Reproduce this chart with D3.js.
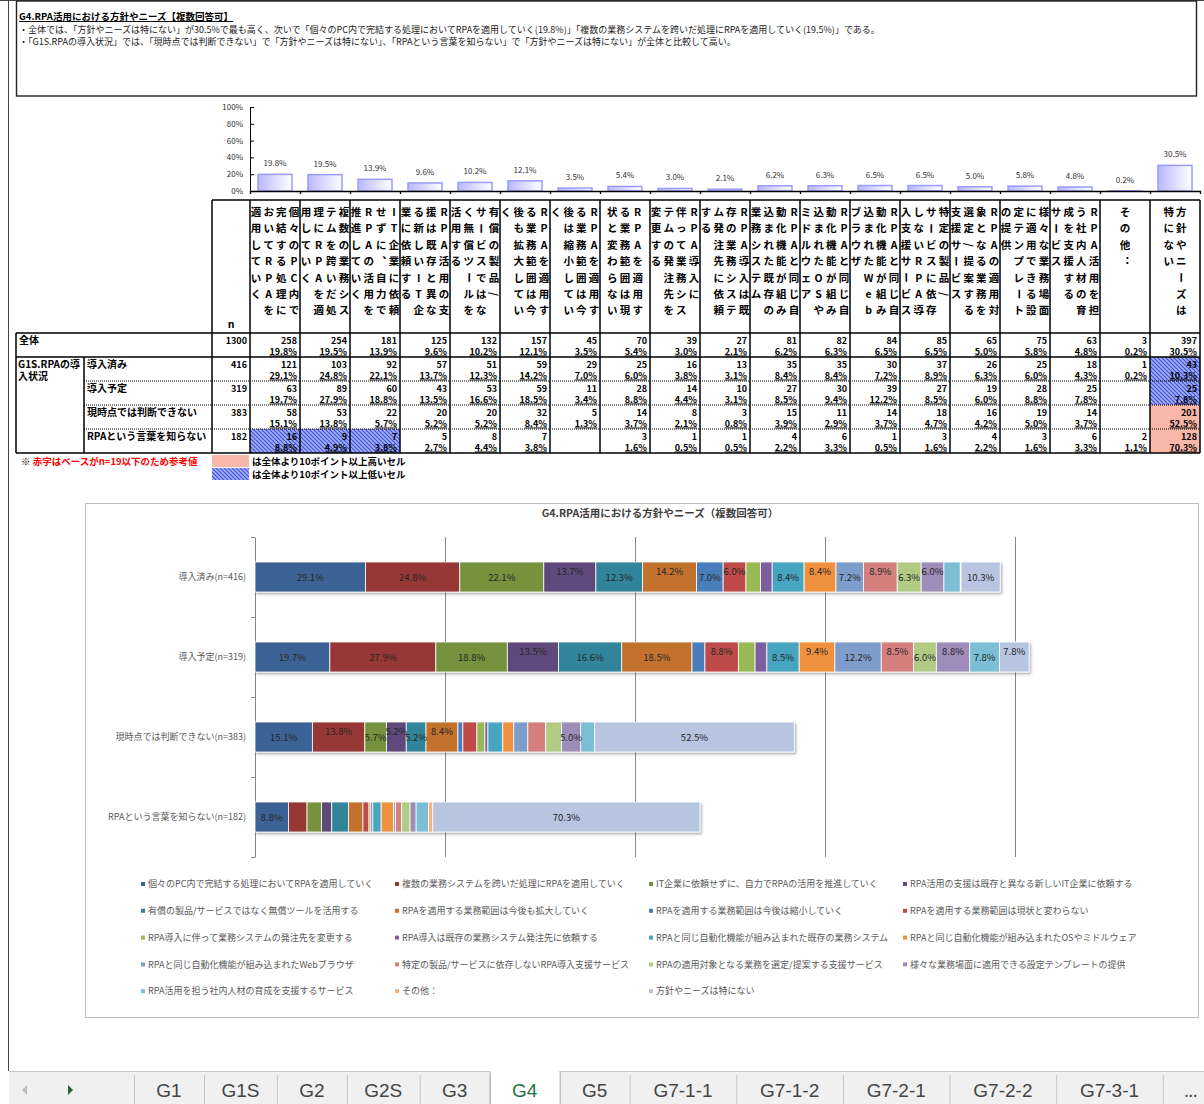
<!DOCTYPE html>
<html>
<head>
<meta charset="utf-8">
<script src="https://cdnjs.cloudflare.com/ajax/libs/d3/7.8.5/d3.min.js"></script>
<style>
body { margin: 0; background: #fff; }
text { font-family: "Noto Sans CJK JP", sans-serif; }
</style>
</head>
<body>
<svg id="sheet" width="1204" height="1104"></svg>
<script>
// ---- data ----
var sheetTitle = "G4.RPA活用における方針やニーズ【複数回答可】";
var notes = [
  "・全体では、「方針やニーズは特にない」が30.5%で最も高く、次いで「個々のPC内で完結する処理においてRPAを適用していく(19.8%)」「複数の業務システムを跨いだ処理にRPAを適用していく(19.5%)」である。",
  "・「G1S.RPAの導入状況」では、「現時点では判断できない」で「方針やニーズは特にない」、「RPAという言葉を知らない」で「方針やニーズは特にない」が全体と比較して高い。"
];

var categories = [
  "個々のPC内で完結する処理においてRPAを適用していく",
  "複数の業務システムを跨いだ処理にRPAを適用していく",
  "IT企業に依頼せずに、自力でRPAの活用を推進していく",
  "RPA活用の支援は既存と異なる新しいIT企業に依頼する",
  "有償の製品/サービスではなく無償ツールを活用する",
  "RPAを適用する業務範囲は今後も拡大していく",
  "RPAを適用する業務範囲は今後は縮小していく",
  "RPAを適用する業務範囲は現状と変わらない",
  "RPA導入に伴って業務システムの発注先を変更する",
  "RPA導入は既存の業務システム発注先に依頼する",
  "RPAと同じ自動化機能が組み込まれた既存の業務システム",
  "RPAと同じ自動化機能が組み込まれたOSやミドルウェア",
  "RPAと同じ自動化機能が組み込まれたWebブラウザ",
  "特定の製品/サービスに依存しないRPA導入支援サービス",
  "RPAの適用対象となる業務を選定/提案する支援サービス",
  "様々な業務場面に適用できる設定テンプレートの提供",
  "RPA活用を担う社内人材の育成を支援するサービス",
  "その他：",
  "方針やニーズは特にない"
];

var totalLabel = "全体";
var totalN = 1300;
var totalCount = [258, 254, 181, 125, 132, 157, 45, 70, 39, 27, 81, 82, 84, 85, 65, 75, 63, 3, 397];
var totalPct = [19.8, 19.5, 13.9, 9.6, 10.2, 12.1, 3.5, 5.4, 3.0, 2.1, 6.2, 6.3, 6.5, 6.5, 5.0, 5.8, 4.8, 0.2, 30.5];

var groupTitle = "G1S.RPAの導入状況";
var groups = ["導入済み", "導入予定", "現時点では判断できない", "RPAという言葉を知らない"];
var groupN = [416, 319, 383, 182];
var countDone = [121, 103, 92, 57, 51, 59, 29, 25, 16, 13, 35, 35, 30, 37, 26, 25, 18, 1, 43];
var pctDone = [29.1, 24.8, 22.1, 13.7, 12.3, 14.2, 7.0, 6.0, 3.8, 3.1, 8.4, 8.4, 7.2, 8.9, 6.3, 6.0, 4.3, 0.2, 10.3];
var countPlan = [63, 89, 60, 43, 53, 59, 11, 28, 14, 10, 27, 30, 39, 27, 19, 28, 25, null, 25];
var pctPlan = [19.7, 27.9, 18.8, 13.5, 16.6, 18.5, 3.4, 8.8, 4.4, 3.1, 8.5, 9.4, 12.2, 8.5, 6.0, 8.8, 7.8, null, 7.8];
var countUndecided = [58, 53, 22, 20, 20, 32, 5, 14, 8, 3, 15, 11, 14, 18, 16, 19, 14, null, 201];
var pctUndecided = [15.1, 13.8, 5.7, 5.2, 5.2, 8.4, 1.3, 3.7, 2.1, 0.8, 3.9, 2.9, 3.7, 4.7, 4.2, 5.0, 3.7, null, 52.5];
var countUnknown = [16, 9, 7, 5, 8, 7, null, 3, 1, 1, 4, 6, 1, 3, 4, 3, 6, 2, 128];
var pctUnknown = [8.8, 4.9, 3.8, 2.7, 4.4, 3.8, null, 1.6, 0.5, 0.5, 2.2, 3.3, 0.5, 1.6, 2.2, 1.6, 3.3, 1.1, 70.3];
var groupCount = [countDone, countPlan, countUndecided, countUnknown];
var groupPct = [pctDone, pctPlan, pctUndecided, pctUnknown];

var pctTicks = [0, 20, 40, 60, 80, 100];
var gridTicks = [50, 100, 150, 200];
var chartTitle = "G4.RPA活用における方針やニーズ（複数回答可）";
var footNote = "赤字はベースがn=19以下のため参考値";
var highNote = "は全体より10ポイント以上高いセル";
var lowNote = "は全体より10ポイント以上低いセル";
var sheetTabs = ["G1", "G1S", "G2", "G2S", "G3", "G4", "G5", "G7-1-1", "G7-1-2", "G7-2-1", "G7-2-2", "G7-3-1"];
var activeTab = "G4";

var seriesColors = ["#3C6496", "#963735", "#77923D", "#5F4A7B", "#31849B", "#C3722F",
  "#4A7EBB", "#BE4B48", "#98B954", "#7D5FA0", "#46A5C2", "#F0913F",
  "#7F9DCB", "#D3807E", "#B1CB84", "#9E8CBA", "#7CBFD4", "#F8B07F", "#B7C5E0"];

var svg = d3.select("#sheet");
var defs = svg.append("defs");
var fmt = function(v) { return d3.format(".1f")(v) + "%"; };

var grad = defs.append("linearGradient").attr("id", "barGrad").attr("x1", 0).attr("x2", 1);
grad.append("stop").attr("offset", 0).attr("stop-color", "#B8B8FF");
grad.append("stop").attr("offset", 1).attr("stop-color", "#FFFFFF");

var hatch = defs.append("pattern").attr("id", "hatch").attr("patternUnits", "userSpaceOnUse")
  .attr("width", 4).attr("height", 4);
hatch.append("rect").attr("width", 4).attr("height", 4).attr("fill", "#A3B0F6");
hatch.append("path").attr("d", "M-1,-1L5,5M-1,3L1,5M3,-1L5,1").attr("stroke", "#3F50D8").attr("stroke-width", 1.2);

var shadow = defs.append("filter").attr("id", "shadow").attr("x", "-5%").attr("y", "-30%").attr("width", "110%").attr("height", "160%");
shadow.append("feDropShadow").attr("dx", 1.5).attr("dy", 2).attr("stdDeviation", 1.2)
  .attr("flood-color", "#000").attr("flood-opacity", 0.3);

// sheet edges
svg.append("line").attr("x1", 0).attr("x2", 1204).attr("y1", 0.5).attr("y2", 0.5).attr("stroke", "#444");
svg.append("line").attr("x1", 8.5).attr("x2", 8.5).attr("y1", 0).attr("y2", 1071).attr("stroke", "#444");

// ---- summary box ----
svg.append("rect").attr("x", 16.5).attr("y", 1).attr("width", 1180).attr("height", 95)
  .attr("fill", "none").attr("stroke", "#222").attr("stroke-width", 1.4);
svg.append("text").attr("x", 19).attr("y", 20).attr("font-size", 9.5).attr("font-weight", "bold")
  .attr("text-decoration", "underline").text(sheetTitle);
svg.selectAll("text.note").data(notes).join("text").attr("class", "note")
  .attr("x", 19).attr("y", function(d, i) { return 33 + i * 12; })
  .attr("font-size", 9).attr("fill", "#222").text(function(d) { return d; });

// ---- column chart of the total row ----
var xCol = d3.scaleBand().domain(d3.range(categories.length)).range([250, 1200]);
var xBar = d3.scaleBand().domain(d3.range(categories.length)).range([250, 1200])
  .paddingInner(0.32).paddingOuter(0.16);
var yPct = d3.scaleLinear().domain([0, 100]).range([191, 107]);
var xIdx = d3.scaleLinear().domain([0, categories.length]).range([250, 1200]);

var topChart = svg.append("g");
topChart.selectAll("rect").data(totalPct).join("rect")
  .attr("x", function(d, i) { return xBar(i); })
  .attr("y", function(d) { return yPct(d); })
  .attr("width", xBar.bandwidth())
  .attr("height", function(d) { return yPct(0) - yPct(d); })
  .attr("fill", "url(#barGrad)").attr("stroke", "#9A9AFF").attr("stroke-width", 1.5);
topChart.selectAll("text.val").data(totalPct).join("text").attr("class", "val")
  .attr("x", function(d, i) { return xBar(i) + xBar.bandwidth() / 2; })
  .attr("y", function(d) { return yPct(d) - 8; })
  .attr("text-anchor", "middle").attr("font-size", 8).attr("fill", "#333").text(fmt);

var yAx = topChart.append("g").attr("transform", "translate(250,0)")
  .call(d3.axisLeft(yPct).tickValues(pctTicks).tickSize(-4).tickSizeOuter(0).tickPadding(7)
    .tickFormat(function(d) { return d + "%"; }));
yAx.selectAll("text").attr("font-size", 8).attr("fill", "#333").style("font-family", "Noto Sans CJK JP");
yAx.selectAll("line, path").attr("stroke", "#000");
var xAx = topChart.append("g").attr("transform", "translate(0,191)")
  .call(d3.axisBottom(xIdx).tickValues(d3.range(categories.length + 1)).tickSize(3).tickSizeOuter(0).tickFormat(""));
xAx.selectAll("line, path").attr("stroke", "#000").attr("stroke-width", 1.3);

// ---- cross table ----
var table = svg.append("g");
var rowTop = d3.scaleLinear().domain([0, 5]).range([333, 453]);
var rowH = rowTop(1) - rowTop(0);

// highlighted cells (10 points above / below the total)
groupPct.forEach(function(row, gi) {
  row.forEach(function(p, ci) {
    if (p == null) return;
    var diff = p - totalPct[ci];
    if (Math.abs(diff) < 10) return;
    table.append("rect").attr("x", xCol(ci)).attr("y", rowTop(gi + 1))
      .attr("width", xCol.bandwidth()).attr("height", rowH)
      .attr("fill", diff > 0 ? "#F9B7A9" : "url(#hatch)");
  });
});

// vertical (tategaki) header text
var noStart = "ー、。）」：っゃゅょッャュョァィゥェォ";
function verticalColumns(s, per) {
  var chars = Array.from(s), cols = [], cur = [];
  chars.forEach(function(ch) {
    if (cur.length === per) {
      if (noStart.indexOf(ch) >= 0) {
        var last = cur.pop();
        cols.push(cur);
        cur = [last];
      } else {
        cols.push(cur);
        cur = [];
      }
    }
    cur.push(ch);
  });
  if (cur.length) cols.push(cur);
  return cols;
}
var turned = "ー/";
var vertForm = { "、": "︑", "：": "︓", "。": "︒" };
var header = table.append("g").attr("font-size", 10.5).attr("font-weight", "bold").attr("fill", "#000");
categories.forEach(function(c, ci) {
  var cols = verticalColumns(c, 7);
  var cx = xCol(ci) + xCol.bandwidth() / 2;
  cols.forEach(function(col, j) {
    var x = cx + ((cols.length - 1) / 2 - j) * 12.7;
    col.forEach(function(ch, r) {
      var y = 212 + r * 16.4;
      var t = header.append("text").attr("x", x).attr("y", y + 4).attr("text-anchor", "middle")
        .text(vertForm[ch] || ch);
      if (turned.indexOf(ch) >= 0) t.attr("transform", "rotate(90," + x + "," + y + ")");
    });
  });
});
header.append("text").attr("x", 231).attr("y", 328).attr("text-anchor", "middle").text("n");

// numbers
var cells = table.append("g").attr("font-size", 9).attr("font-weight", "bold").attr("fill", "#000");
function drawRow(ri, n, counts, pcts) {
  var t = rowTop(ri);
  cells.append("text").attr("x", 247).attr("y", t + 10.5).attr("text-anchor", "end").text(n);
  counts.forEach(function(c, ci) {
    if (c == null) return;
    var xr = xCol(ci) + xCol.bandwidth() - 3;
    cells.append("text").attr("x", xr).attr("y", t + 10.5).attr("text-anchor", "end").text(c);
    cells.append("text").attr("x", xr).attr("y", t + 21.5).attr("text-anchor", "end")
      .attr("text-decoration", "underline").text(fmt(pcts[ci]));
  });
}
drawRow(0, totalN, totalCount, totalPct);
groups.forEach(function(g, gi) { drawRow(gi + 1, groupN[gi], groupCount[gi], groupPct[gi]); });

var labelsG = table.append("g").attr("font-size", 10).attr("font-weight", "bold").attr("fill", "#000");
labelsG.append("text").attr("x", 19).attr("y", rowTop(0) + 11).text(totalLabel);
labelsG.append("text").attr("x", 18).attr("y", rowTop(1) + 11).text(groupTitle.slice(0, 9));
labelsG.append("text").attr("x", 18).attr("y", rowTop(1) + 23).text(groupTitle.slice(9));
groups.forEach(function(g, gi) {
  labelsG.append("text").attr("x", 87).attr("y", rowTop(gi + 1) + 11).text(g);
});

// grid lines of the table
var lines = table.append("g").attr("stroke", "#000").attr("stroke-width", 1.5);
function hLine(y, x1, dotted) {
  var l = lines.append("line").attr("x1", x1).attr("x2", 1200).attr("y1", y).attr("y2", y);
  if (dotted) l.attr("stroke-width", 1).attr("stroke-dasharray", "1,1");
}
hLine(200, 212);
hLine(rowTop(0), 16);
hLine(rowTop(1), 16);
hLine(rowTop(2), 84, true);
hLine(rowTop(3), 84, true);
hLine(rowTop(4), 84, true);
hLine(rowTop(5), 16);
function vLine(x, y1) {
  lines.append("line").attr("x1", x).attr("x2", x).attr("y1", y1).attr("y2", rowTop(5));
}
vLine(16, rowTop(0));
vLine(84, rowTop(1));
vLine(212, 200);
d3.range(categories.length + 1).forEach(function(i) { vLine(xIdx(i), 200); });

// foot notes of the table
var foot = svg.append("g").attr("font-size", 9.5).attr("font-weight", "bold");
var fn = foot.append("text").attr("x", 21).attr("y", 465);
fn.append("tspan").attr("fill", "#000").text("※ ");
fn.append("tspan").attr("fill", "#FF0000").text(footNote);
foot.append("rect").attr("x", 212).attr("y", 455).attr("width", 37).attr("height", 12).attr("fill", "#F9B7A9");
foot.append("rect").attr("x", 212).attr("y", 468).attr("width", 37).attr("height", 12).attr("fill", "url(#hatch)");
foot.append("text").attr("x", 252).attr("y", 465).text(highNote);
foot.append("text").attr("x", 252).attr("y", 478).text(lowNote);

// ---- stacked bar chart ----
var chart = svg.append("g");
chart.append("rect").attr("x", 85.5).attr("y", 503.5).attr("width", 1113).attr("height", 514)
  .attr("fill", "#fff").attr("stroke", "#BFBFBF");
chart.append("text").attr("x", 660).attr("y", 517).attr("text-anchor", "middle")
  .attr("font-size", 10.5).attr("font-weight", "bold").attr("fill", "#404040").text(chartTitle);

var xS = d3.scaleLinear().domain([0, 250]).range([255, 1205]);
var yS = d3.scaleBand().domain(d3.range(groups.length)).range([537, 857])
  .paddingInner(0.625).paddingOuter(0.3125);
var yEdge = d3.scaleLinear().domain([0, groups.length]).range([537, 857]);

var grid = chart.append("g").attr("transform", "translate(0,537)")
  .call(d3.axisBottom(xS).tickValues(gridTicks).tickSize(320).tickFormat(""));
grid.select(".domain").remove();
grid.selectAll("line").attr("stroke", "#868686");

var yAxis = chart.append("g").attr("transform", "translate(255,0)")
  .call(d3.axisLeft(yEdge).ticks(groups.length).tickSize(4).tickSizeOuter(0).tickFormat(""));
yAxis.selectAll("line, path").attr("stroke", "#868686");

chart.selectAll("text.cat").data(groups).join("text").attr("class", "cat")
  .attr("x", 246).attr("y", function(d, i) { return yS(i) + yS.bandwidth() / 2 + 3; })
  .attr("text-anchor", "end").attr("font-size", 9).attr("fill", "#595959")
  .text(function(d, i) { return d + "(n=" + groupN[i] + ")"; });

var stackRows = groupPct.map(function(r) { return r.map(function(v) { return v == null ? 0 : v; }); });
var series = d3.stack().keys(d3.range(categories.length))
  .value(function(d, k) { return d[k]; })(stackRows);
var segs = [];
series.forEach(function(s, si) {
  s.forEach(function(d, ri) {
    if (d[1] - d[0] > 0) segs.push({ s: si, r: ri, x0: d[0], x1: d[1], v: stackRows[ri][si] });
  });
});
chart.append("g").attr("filter", "url(#shadow)").selectAll("rect").data(segs).join("rect")
  .attr("x", function(d) { return xS(d.x0); })
  .attr("y", function(d) { return yS(d.r); })
  .attr("width", function(d) { return xS(d.x1) - xS(d.x0); })
  .attr("height", yS.bandwidth())
  .attr("fill", function(d) { return seriesColors[d.s]; })
  .attr("stroke", "#fff").attr("stroke-width", 0.8);

// labels: only >= 5%, narrow neighbours alternate upward
var labels = [];
groups.forEach(function(g, ri) {
  var prevLift = true;
  segs.filter(function(d) { return d.r === ri && d.v >= 5; }).forEach(function(d) {
    var lift = d.v < 17.5 && !prevLift;
    prevLift = lift;
    labels.push({ d: d, lift: lift });
  });
});
chart.selectAll("text.lab").data(labels).join("text").attr("class", "lab")
  .attr("x", function(l) { return xS((l.d.x0 + l.d.x1) / 2); })
  .attr("y", function(l) { return yS(l.d.r) + yS.bandwidth() / 2 + 3.5 - (l.lift ? 6 : 0); })
  .attr("text-anchor", "middle").attr("font-size", 9.5).attr("fill", "#262626")
  .text(function(l) { return fmt(l.d.v); });

// legend
var legend = chart.append("g").selectAll("g").data(categories).join("g")
  .attr("transform", function(d, i) { return "translate(" + (143 + (i % 4) * 254) + "," + (884 + Math.floor(i / 4) * 26.8) + ")"; });
legend.append("rect").attr("x", -2).attr("y", -2).attr("width", 4).attr("height", 4)
  .attr("fill", function(d, i) { return seriesColors[i]; });
legend.append("text").attr("x", 5).attr("y", 3.2).attr("font-size", 9).attr("fill", "#595959")
  .text(function(d) { return d; });

// ---- sheet tabs ----
var tabs = svg.append("g");
tabs.append("rect").attr("x", 9).attr("y", 1071).attr("width", 1195).attr("height", 33).attr("fill", "#F0F0F0");
tabs.append("line").attr("x1", 9).attr("x2", 1204).attr("y1", 1071.5).attr("y2", 1071.5).attr("stroke", "#C6C6C6");
tabs.append("path").attr("d", "M27,1085L22,1090L27,1095Z").attr("fill", "#BDBDBD");
tabs.append("path").attr("d", "M68,1085L73,1090L68,1095Z").attr("fill", "#2F5F3A");
var tx = 134;
tabs.append("line").attr("x1", tx + 0.5).attr("x2", tx + 0.5).attr("y1", 1075).attr("y2", 1104).attr("stroke", "#C6C6C6");
sheetTabs.forEach(function(name) {
  var t = tabs.append("text").attr("y", 1097).attr("text-anchor", "middle")
    .attr("font-size", 19).style("font-family", "'Liberation Sans', Arial, sans-serif")
    .attr("fill", name === activeTab ? "#217346" : "#444").text(name);
  var w = Math.max(70, t.node().getComputedTextLength() * 1.6 + 12);
  if (name === activeTab) {
    tabs.insert("rect", "text").attr("x", tx).attr("y", 1071).attr("width", w).attr("height", 33).attr("fill", "#fff");
    tabs.append("line").attr("x1", tx + 0.5).attr("x2", tx + 0.5).attr("y1", 1071).attr("y2", 1104).attr("stroke", "#AFAFAF");
    tabs.append("line").attr("x1", tx + w + 0.5).attr("x2", tx + w + 0.5).attr("y1", 1071).attr("y2", 1104).attr("stroke", "#AFAFAF");
  } else {
    tabs.append("line").attr("x1", tx + w + 0.5).attr("x2", tx + w + 0.5).attr("y1", 1075).attr("y2", 1104).attr("stroke", "#C6C6C6");
  }
  t.attr("x", tx + w / 2);
  tx += w;
});
tabs.append("text").attr("x", tx + 28).attr("y", 1097).attr("text-anchor", "middle").attr("font-size", 16)
  .attr("fill", "#444").text("...");
</script>
</body>
</html>
